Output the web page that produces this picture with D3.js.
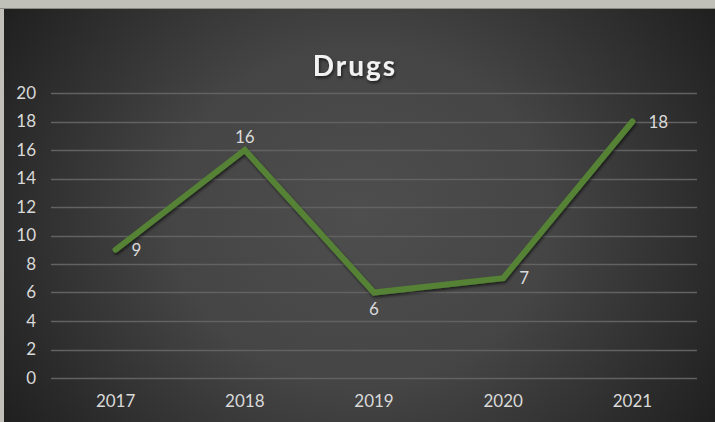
<!DOCTYPE html>
<html><head><meta charset="utf-8">
<script src="https://cdn.jsdelivr.net/npm/d3@7"></script>
<style>html,body{margin:0;padding:0;background:#c0c0b8;overflow:hidden}</style>
</head><body>
<svg id="chart" width="715" height="422"></svg>
<script>
const categories = ["2017","2018","2019","2020","2021"];
const values = [9,16,6,7,18];
const yTicks = [0,2,4,6,8,10,12,14,16,18,20];
const labelPos = ["right","top","bottom","right","right"];
const title = "Drugs";

const W = 715, H = 422;
const svg = d3.select("#chart");
const defs = svg.append("defs");
const rg = defs.append("radialGradient").attr("id","bg")
  .attr("gradientUnits","userSpaceOnUse").attr("cx",360).attr("cy",215).attr("r",420)
  .attr("gradientTransform","translate(360,215) scale(1,0.9) translate(-360,-215)");
rg.append("stop").attr("offset","0%").attr("stop-color","#4e4e4e");
rg.append("stop").attr("offset","45%").attr("stop-color","#454545");
rg.append("stop").attr("offset","100%").attr("stop-color","#202020");
const sh = defs.append("filter").attr("id","sh").attr("x","-20%").attr("y","-20%").attr("width","140%").attr("height","140%");
sh.append("feDropShadow").attr("dx",1).attr("dy",2).attr("stdDeviation",1.5).attr("flood-color","#000").attr("flood-opacity",0.6);

svg.append("rect").attr("width",W).attr("height",H).attr("fill","#c0c0b8");
svg.append("rect").attr("x",0).attr("y",8).attr("width",W).attr("height",1).attr("fill","#8a8a84");
svg.append("rect").attr("x",4).attr("y",9).attr("width",W-4).attr("height",H-9).attr("fill","url(#bg)");

const x = d3.scaleBand().domain(categories).range([51,697]);
const y = d3.scaleLinear().domain([0,20]).range([378,93]);

const grid = svg.append("g");
grid.selectAll("line").data(yTicks).join("line")
  .attr("x1",51).attr("x2",697)
  .attr("y1",d=>Math.round(y(d))+0.5).attr("y2",d=>Math.round(y(d))+0.5)
  .attr("stroke","#626262").attr("stroke-width",1.4);

const font = "Lato, 'Open Sans', sans-serif";
const yAxis = d3.axisLeft(y).tickValues(yTicks).tickSize(0).tickPadding(0);
const ga = svg.append("g").attr("transform","translate(36,0)").call(yAxis);
ga.select(".domain").remove();
ga.selectAll("text").attr("fill","#d9d9d9").style("font-family",font).style("font-size","17px");

const xAxis = d3.axisBottom(x).tickSize(0).tickPadding(0);
const gx = svg.append("g").attr("transform","translate(0,395)").call(xAxis);
gx.select(".domain").remove();
gx.selectAll("text").attr("fill","#d9d9d9").style("font-family",font).style("font-size","17px");

const cx = d => x(d) + x.bandwidth()/2;
const line = d3.line().x((d,i)=>cx(categories[i])).y(d=>y(d));
svg.append("path").datum(values).attr("d",line)
  .attr("fill","none").attr("stroke","#548235").attr("stroke-width",6)
  .attr("stroke-linejoin","miter").attr("stroke-linecap","round").attr("filter","url(#sh)");

svg.append("g").selectAll("text").data(values).join("text")
  .attr("x",(d,i)=>{const p=labelPos[i]; return cx(categories[i]) + (p==="right"?16:0);})
  .attr("y",(d,i)=>{const p=labelPos[i]; return y(d) + (p==="top"?-7:p==="bottom"?22:6);})
  .attr("text-anchor",(d,i)=>labelPos[i]==="right"?"start":"middle")
  .attr("fill","#d9d9d9").style("font-family",font).style("font-size","17px")
  .text(d=>d);

svg.append("text").attr("x",355).attr("y",76).attr("text-anchor","middle")
  .attr("fill","#f2f2f2").style("font-family",font).style("font-weight","bold")
  .style("font-size","28px").style("letter-spacing","2px").attr("filter","url(#sh)")
  .text(title);
</script>
</body></html>
